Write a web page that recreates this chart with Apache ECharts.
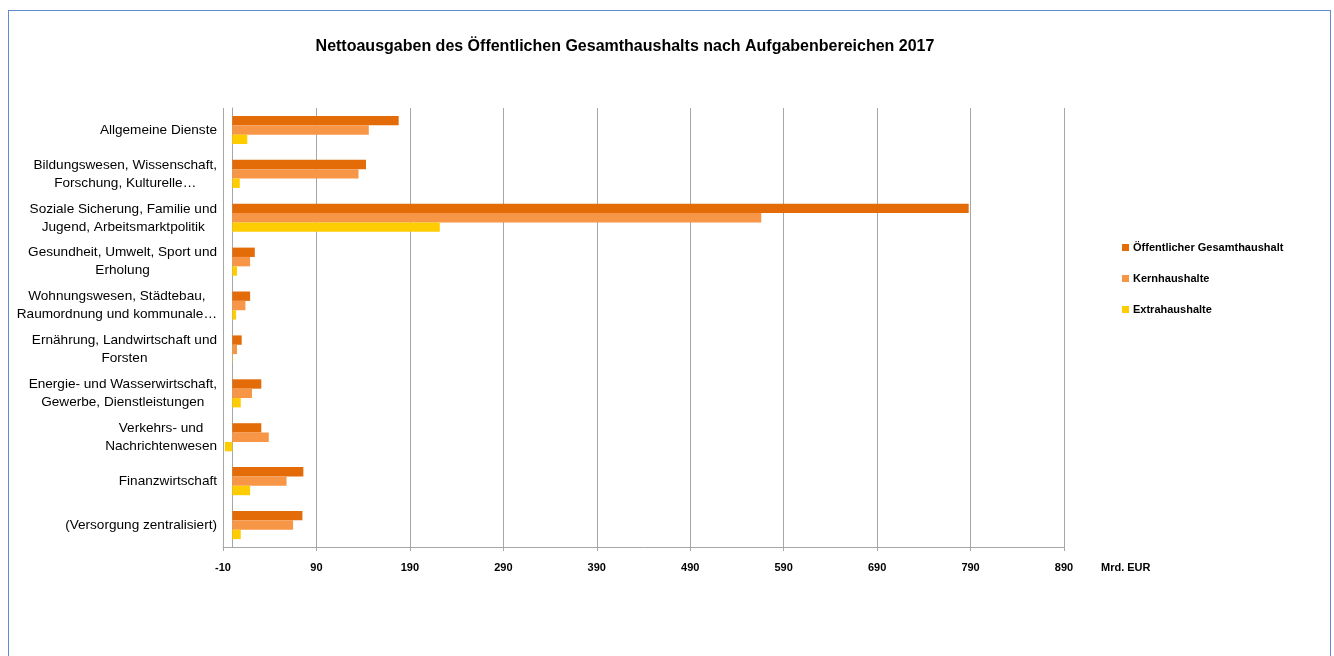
<!DOCTYPE html>
<html>
<head>
<meta charset="utf-8">
<script src="https://cdn.jsdelivr.net/npm/echarts@6/dist/echarts.min.js"></script>
<style>
html,body{margin:0;padding:0;background:#fff;overflow:hidden;}
#chart{position:absolute;left:0;top:0;width:1334px;height:656px;}
#frame{position:absolute;left:8px;top:10px;width:1321px;height:700px;border:1px solid #5e8cd0;pointer-events:none;}
</style>
</head>
<body>
<div id="chart"></div>
<div id="frame"></div>
<script>
const titleText = 'Nettoausgaben des Öffentlichen Gesamthaushalts nach Aufgabenbereichen 2017';
const categories = [
  'Allgemeine Dienste',
  'Bildungswesen, Wissenschaft,\nForschung, Kulturelle…',
  'Soziale Sicherung, Familie und\nJugend, Arbeitsmarktpolitik',
  'Gesundheit, Umwelt, Sport und\nErholung',
  'Wohnungswesen, Städtebau,\nRaumordnung und kommunale…',
  'Ernährung, Landwirtschaft und\nForsten',
  'Energie- und Wasserwirtschaft,\nGewerbe, Dienstleistungen',
  'Verkehrs- und\nNachrichtenwesen',
  'Finanzwirtschaft',
  '(Versorgung zentralisiert)'
];
const seriesNames = ['Öffentlicher Gesamthaushalt', 'Kernhaushalte', 'Extrahaushalte'];
const oeffentlich = [178, 143, 788, 24, 19, 10, 31, 31, 76, 75];
const kern = [146, 135, 566, 19, 14, 5, 21, 39, 58, 65];
const extra = [16, 8, 222, 5, 4, 0.3, 9, -8, 19, 9];
const xTicks = [-10, 90, 190, 290, 390, 490, 590, 690, 790, 890];
const axisName = 'Mrd. EUR';

const colors = ['#E36C09', '#F79646', '#FFCC00'];
const font = '"Liberation Sans", Arial, sans-serif';

const chart = echarts.init(document.getElementById('chart'), null, {renderer: 'canvas'});
const values = [oeffentlich, kern, extra];
chart.setOption({
  backgroundColor: '#fff',
  animation: false,
  title: {
    text: titleText,
    left: 620,
    top: 34,
    textAlign: 'center',
    textStyle: {fontFamily: font, fontSize: 16, fontWeight: 'bold', color: '#000'}
  },
  legend: {
    orient: 'vertical',
    left: 1117,
    top: 237,
    itemWidth: 7,
    itemHeight: 7,
    itemGap: 20,
    icon: 'rect',
    textStyle: {fontFamily: font, fontSize: 11, fontWeight: 'bold', color: '#000', padding: [0,0,0,-1]},
    data: seriesNames
  },
  grid: {left: 223, right: 270, top: 108, bottom: 109, containLabel: false, outerBoundsMode: 'none'},
  xAxis: {
    type: 'value',
    min: -10,
    max: 890,
    interval: 100,
    name: axisName,
    nameLocation: 'end',
    nameGap: 37,
    nameTextStyle: {fontFamily: font, fontSize: 11, fontWeight: 'bold', color: '#000', verticalAlign: 'top', padding: [15,0,0,0]},
    axisLine: {show: true, onZero: false, lineStyle: {color: '#a6a6a6', width: 1}},
    axisTick: {show: true, length: 4, lineStyle: {color: '#a6a6a6'}, customValues: xTicks},
    axisLabel: {show: true, margin: 15, fontFamily: font, fontSize: 11, fontWeight: 'bold', color: '#000', customValues: xTicks},
    splitLine: {show: true, lineStyle: {color: '#a6a6a6', width: 1}}
  },
  yAxis: {
    type: 'category',
    inverse: true,
    data: categories,
    axisLine: {show: true, onZero: true, lineStyle: {color: '#a6a6a6', width: 1}},
    axisTick: {show: false},
    splitLine: {show: false},
    axisLabel: {
      margin: 6,
      interval: 0,
      fontFamily: font,
      fontSize: 13.6,
      color: '#000',
      lineHeight: 18,
      formatter: v => '{c|' + v + '}',
      rich: {c: {align: 'center', fontFamily: font, fontSize: 13.6, lineHeight: 18, color: '#000'}}
    }
  },
  series: seriesNames.map((n, i) => ({
    name: n,
    type: 'bar',
    data: values[i],
    barGap: '0%',
    barCategoryGap: '36%',
    itemStyle: {color: colors[i]}
  }))
});
</script>
</body>
</html>
